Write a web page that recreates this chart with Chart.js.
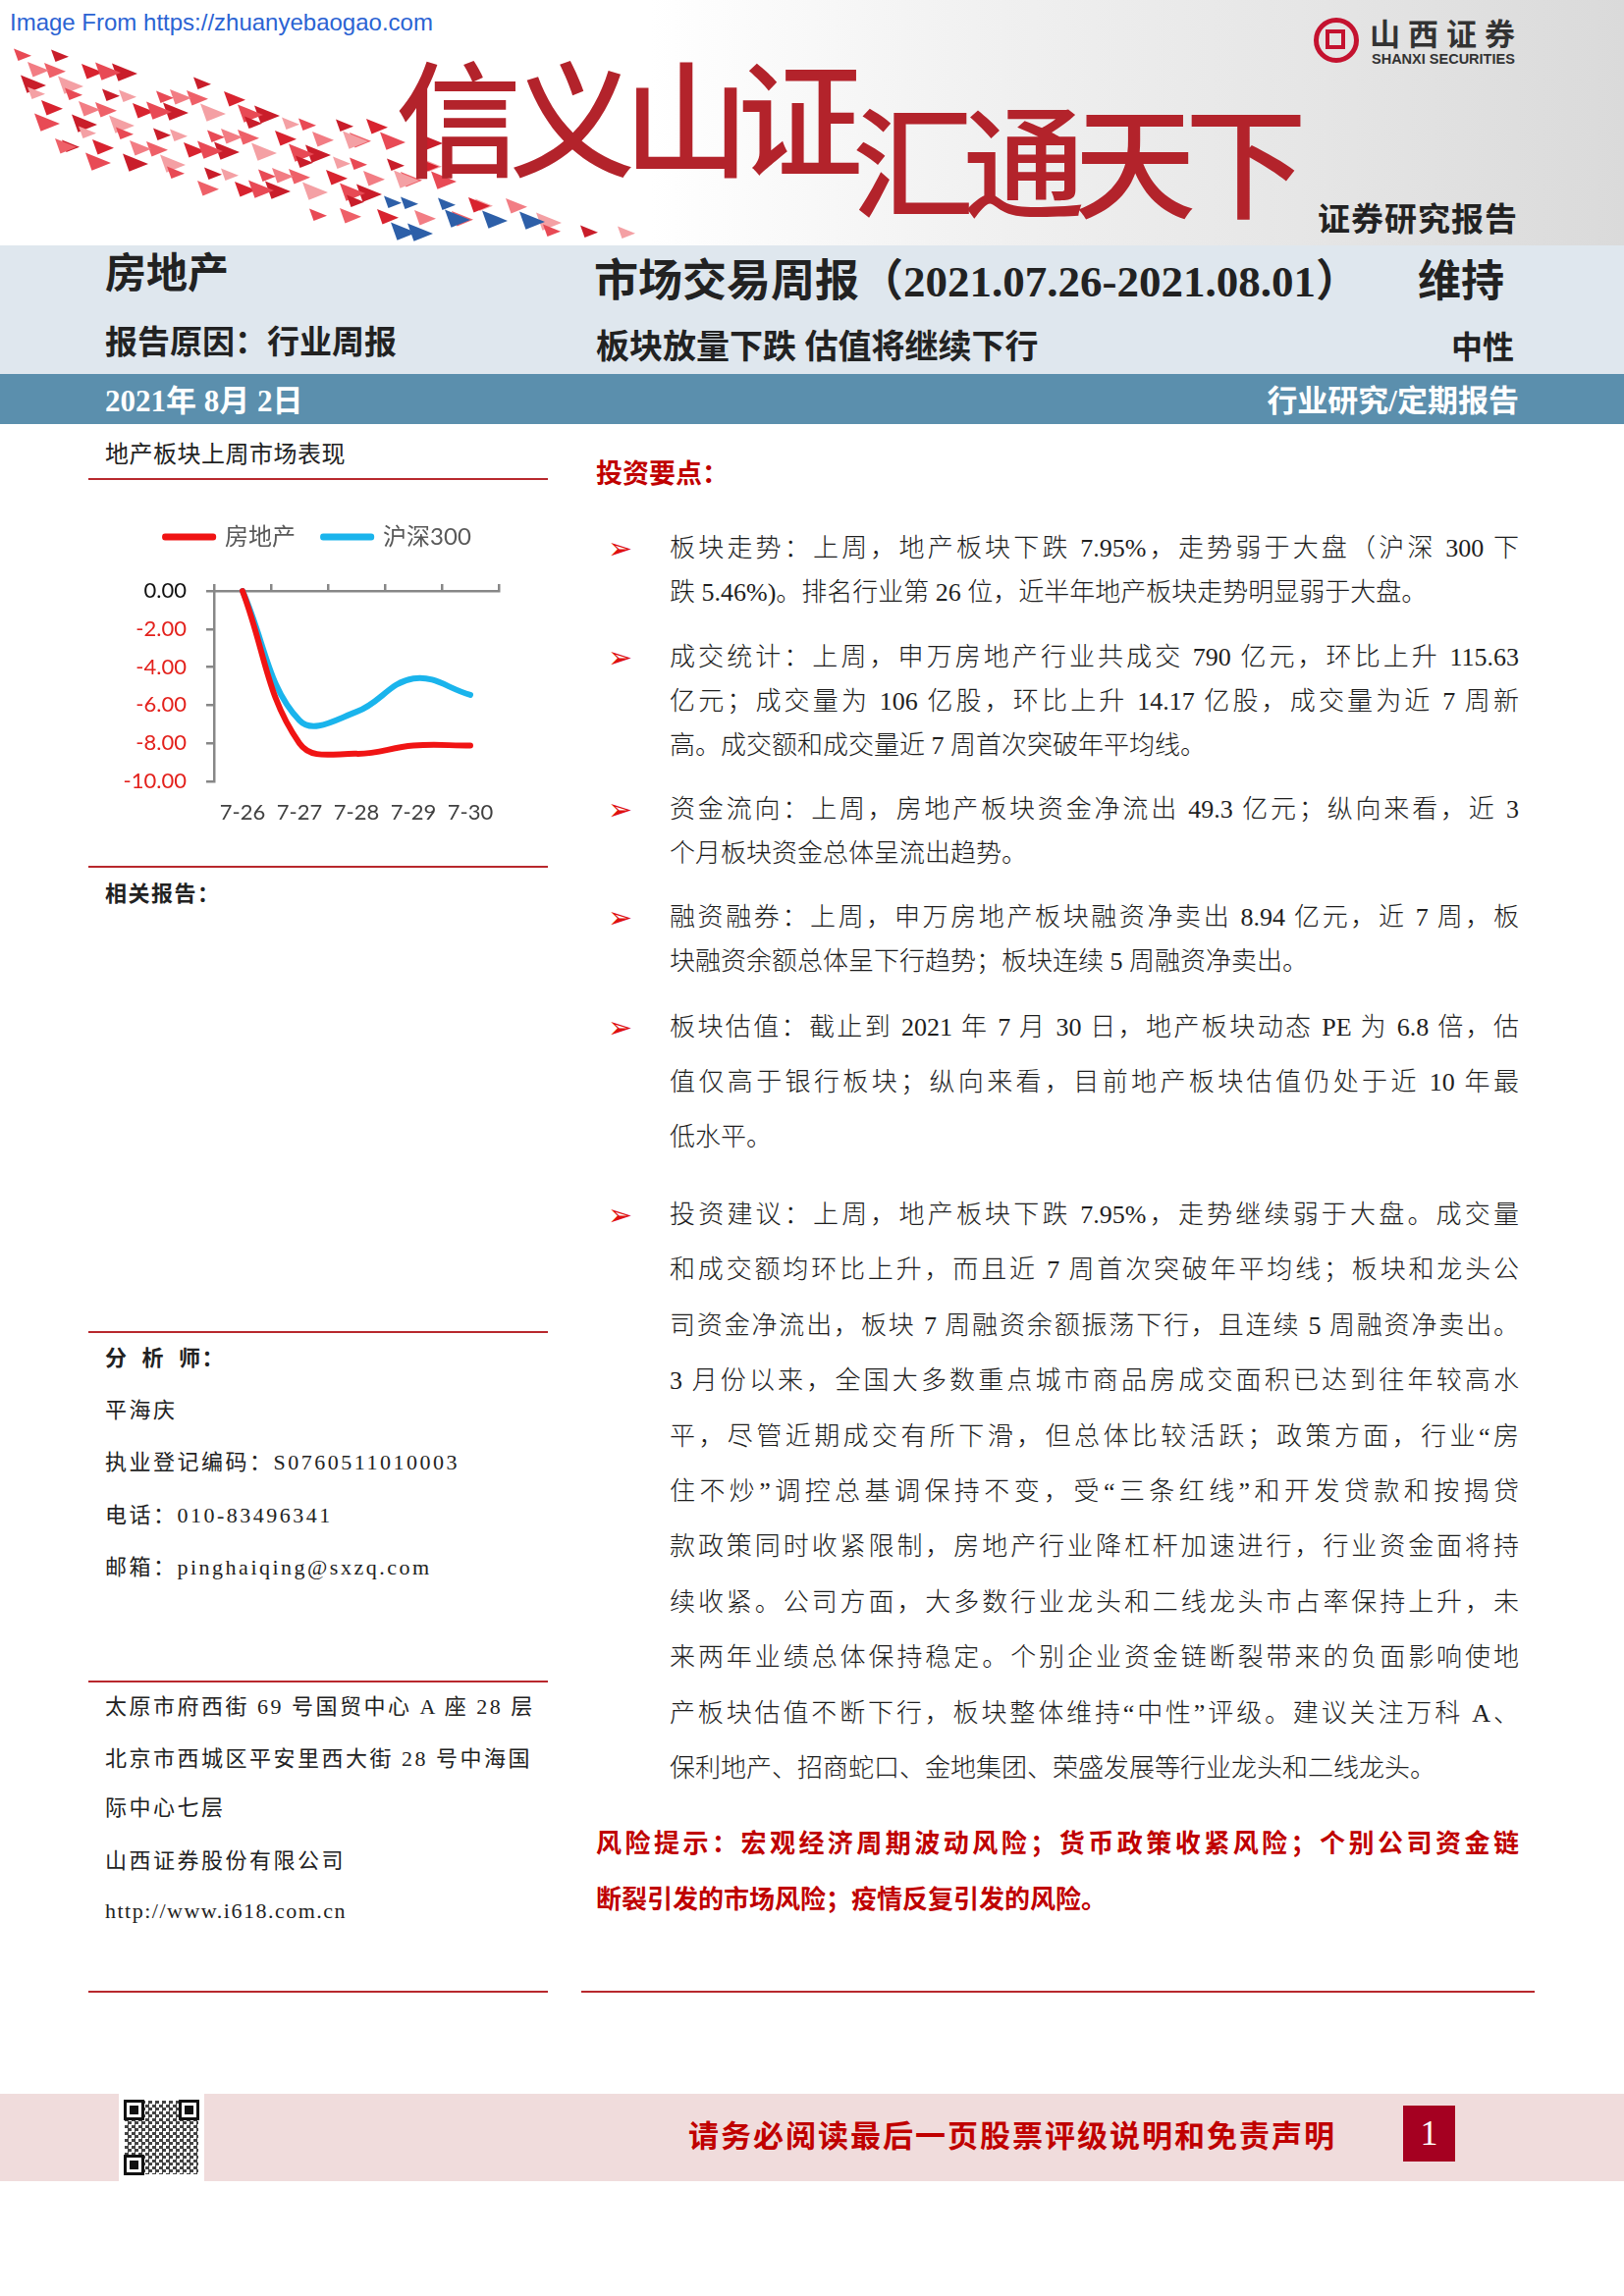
<!DOCTYPE html>
<html lang="zh-CN">
<head>
<meta charset="utf-8">
<title>房地产 市场交易周报</title>
<script src="https://cdn.jsdelivr.net/npm/chart.js@4.4.1/dist/chart.umd.min.js"></script>
<style>
html, body { margin: 0; padding: 0; background: #fff; }
body {
    width: 1654px; height: 2339px; position: relative; overflow: hidden;
    font-family: 'Liberation Serif', 'Noto Sans CJK SC', serif; color: #222;
}
.abs { position: absolute; white-space: nowrap; line-height: 1; }
.hei { font-family: 'Liberation Serif', 'Noto Sans CJK SC', sans-serif; font-weight: 700; }
#banner {
    position: absolute; left: 0; top: 0; width: 1654px; height: 250px;
    background: linear-gradient(90deg, #fff 0%, #fff 40%, #f1f1f1 60%, #e6e6e6 80%, #dadada 100%);
}
.big { position: absolute; font-family: 'Noto Sans CJK SC'; font-weight: 500; color: #b3232b;
       line-height: 1; white-space: nowrap; }
#band1 { position: absolute; left: 0; top: 250px; width: 1654px; height: 131px; background: #dfe7ee; }
#band2 { position: absolute; left: 0; top: 381px; width: 1654px; height: 51px; background: #5b8fad; }
.rule { position: absolute; height: 1.5px; background: #b8282d; }
.left { font-size: 22px; letter-spacing: 2.5px; left: 107px; }
.para { position: absolute; left: 682px; width: 865px; font-size: 26px; font-weight: 300; color: #1e1e1e; }
.para div { text-align: left; white-space: normal; }
.para div.j { text-align: justify; text-align-last: justify; }
.arrow { position: absolute; left: 619px; font-family: 'DejaVu Sans'; font-size: 30px; color: #e01010; line-height: 1; }
#chart-box { position: absolute; left: 90px; top: 500px; width: 468px; height: 350px; }
#footer { position: absolute; left: 0; top: 2133px; width: 1654px; height: 89px; background: #f0dcdc; }
#qr { position: absolute; left: 121px; top: 2133px; width: 87px; height: 89px; background: #fff; }
#qr .inner { position: absolute; left: 6px; top: 7px; width: 75px; height: 75px;
    background: repeating-conic-gradient(#222 0 25%, #fff 0 50%) 0 0 / 7px 7px; opacity: 0.85; }
#qr .fd { position: absolute; width: 15px; height: 15px; border: 3px solid #111; background: #fff; }
#qr .fd::after { content: ''; position: absolute; left: 3px; top: 3px; width: 9px; height: 9px; background: #111; }
</style>
</head>
<body>

<!-- 顶部横幅 -->
<div id="banner">
    <svg id="flock" width="700" height="250" style="position:absolute;left:0;top:0"></svg>
    <div class="abs" style="left:10px;top:11px;font-family:'Liberation Sans Narrow','Liberation Sans';font-size:24px;color:#2b63d3;">Image From https://zhuanyebaogao.com</div>
    <div class="big" style="left:403px;top:52px;font-size:128px;letter-spacing:-12px;">信义山证</div>
    <div class="big" style="left:868px;top:97px;font-size:124px;letter-spacing:-11px;">汇通天下</div>
    <div style="position:absolute;left:1338px;top:18px;width:36px;height:36px;border:5px solid #c4122f;border-radius:50%;"></div>
    <div style="position:absolute;left:1350px;top:30px;width:12px;height:12px;border:4px solid #c4122f;"></div>
    <div class="abs hei" style="left:1395px;top:17px;font-size:31px;letter-spacing:8px;color:#333;font-family:'Noto Sans CJK SC';">山西证券</div>
    <div class="abs" style="left:1397px;top:53px;font-size:14.5px;font-weight:700;color:#333;font-family:'Liberation Sans';">SHANXI SECURITIES</div>
    <div class="abs hei" style="left:1342px;top:205px;font-size:33px;letter-spacing:1px;font-family:'Noto Sans CJK SC';">证券研究报告</div>
</div>

<!-- 标题栏 -->
<div id="band1"></div>
<div id="band2"></div>
<div class="abs hei" style="left:107px;top:258px;font-size:42px;">房地产</div>
<div class="abs hei" style="left:605px;top:265px;font-size:45px;">市场交易周报（2021.07.26-2021.08.01）</div>
<div class="abs hei" style="left:1444px;top:266px;font-size:44px;">维持</div>
<div class="abs hei" style="left:107px;top:333px;font-size:33px;">报告原因：行业周报</div>
<div class="abs hei" style="left:607px;top:337px;font-size:34px;">板块放量下跌 估值将继续下行</div>
<div class="abs hei" style="left:1478px;top:338px;font-size:32px;">中性</div>
<div class="abs hei" style="left:107px;top:393px;font-size:31px;color:#fff;">2021年 8月 2日</div>
<div class="abs hei" style="right:107px;top:393px;font-size:31px;color:#fff;">行业研究/定期报告</div>

<!-- 左栏 -->
<div class="abs" style="left:107px;top:449px;font-size:24px;font-family:'Noto Sans CJK SC';letter-spacing:0.5px;">地产板块上周市场表现</div>
<div class="rule" style="left:90px;width:468px;top:487px;"></div>
<div id="chart-box"><canvas id="myChart"></canvas></div>
<div class="rule" style="left:90px;width:468px;top:882px;"></div>
<div class="abs hei left" style="top:900px;letter-spacing:1.5px;">相关报告：</div>
<div class="rule" style="left:90px;width:468px;top:1356px;"></div>
<div class="abs hei left" style="top:1373px;letter-spacing:1.5px;">分&nbsp;&nbsp;析&nbsp;&nbsp;师：</div>
<div class="abs left" style="top:1426px;">平海庆</div>
<div class="abs left" style="top:1479px;">执业登记编码：S0760511010003</div>
<div class="abs left" style="top:1533px;">电话：010-83496341</div>
<div class="abs left" style="top:1586px;">邮箱：pinghaiqing@sxzq.com</div>
<div class="rule" style="left:90px;width:468px;top:1712px;"></div>
<div class="abs left" style="top:1728px;">太原市府西街 69 号国贸中心 A 座 28 层</div>
<div class="abs left" style="top:1781px;">北京市西城区平安里西大街 28 号中海国</div>
<div class="abs left" style="top:1831px;">际中心七层</div>
<div class="abs left" style="top:1885px;">山西证券股份有限公司</div>
<div class="abs left" style="top:1936px;letter-spacing:1.5px;">http://www.i618.com.cn</div>
<div class="rule" style="left:90px;width:468px;top:2028px;"></div>

<!-- 右栏 -->
<div class="abs hei" style="left:607px;top:470px;font-size:27px;color:#c00000;">投资要点：</div>

<div class="arrow" style="top:544px;">➢</div>
<div class="para" style="top:536px;line-height:45px;">
    <div class="j">板块走势：上周，地产板块下跌 7.95%，走势弱于大盘（沪深 300 下</div>
    <div>跌 5.46%)。排名行业第 26 位，近半年地产板块走势明显弱于大盘。</div>
</div>

<div class="arrow" style="top:655px;">➢</div>
<div class="para" style="top:647px;line-height:45px;">
    <div class="j">成交统计：上周，申万房地产行业共成交 790 亿元，环比上升 115.63</div>
    <div class="j">亿元；成交量为 106 亿股，环比上升 14.17 亿股，成交量为近 7 周新</div>
    <div>高。成交额和成交量近 7 周首次突破年平均线。</div>
</div>

<div class="arrow" style="top:810px;">➢</div>
<div class="para" style="top:802px;line-height:45px;">
    <div class="j">资金流向：上周，房地产板块资金净流出 49.3 亿元；纵向来看，近 3</div>
    <div>个月板块资金总体呈流出趋势。</div>
</div>

<div class="arrow" style="top:920px;">➢</div>
<div class="para" style="top:912px;line-height:45px;">
    <div class="j">融资融券：上周，申万房地产板块融资净卖出 8.94 亿元，近 7 周，板</div>
    <div>块融资余额总体呈下行趋势；板块连续 5 周融资净卖出。</div>
</div>

<div class="arrow" style="top:1032px;">➢</div>
<div class="para" style="top:1019px;line-height:56px;">
    <div class="j">板块估值：截止到 2021 年 7 月 30 日，地产板块动态 PE 为 6.8 倍，估</div>
    <div class="j">值仅高于银行板块；纵向来看，目前地产板块估值仍处于近 10 年最</div>
    <div>低水平。</div>
</div>

<div class="arrow" style="top:1223px;">➢</div>
<div class="para" style="top:1210px;line-height:56.4px;">
    <div class="j">投资建议：上周，地产板块下跌 7.95%，走势继续弱于大盘。成交量</div>
    <div class="j">和成交额均环比上升，而且近 7 周首次突破年平均线；板块和龙头公</div>
    <div class="j">司资金净流出，板块 7 周融资余额振荡下行，且连续 5 周融资净卖出。</div>
    <div class="j">3 月份以来，全国大多数重点城市商品房成交面积已达到往年较高水</div>
    <div class="j">平，尽管近期成交有所下滑，但总体比较活跃；政策方面，行业“房</div>
    <div class="j">住不炒”调控总基调保持不变，受“三条红线”和开发贷款和按揭贷</div>
    <div class="j">款政策同时收紧限制，房地产行业降杠杆加速进行，行业资金面将持</div>
    <div class="j">续收紧。公司方面，大多数行业龙头和二线龙头市占率保持上升，未</div>
    <div class="j">来两年业绩总体保持稳定。个别企业资金链断裂带来的负面影响使地</div>
    <div class="j">产板块估值不断下行，板块整体维持“中性”评级。建议关注万科 A、</div>
    <div>保利地产、招商蛇口、金地集团、荣盛发展等行业龙头和二线龙头。</div>
</div>

<div class="para" style="left:607px;width:940px;top:1850px;line-height:57px;color:#c00000;font-weight:700;">
    <div class="j">风险提示：宏观经济周期波动风险；货币政策收紧风险；个别公司资金链</div>
    <div>断裂引发的市场风险；疫情反复引发的风险。</div>
</div>
<div class="rule" style="left:592px;width:971px;top:2028px;"></div>

<!-- 页脚 -->
<div id="footer"></div>
<div id="qr">
    <div class="inner"></div>
    <div class="fd" style="left:5px;top:6px;"></div>
    <div class="fd" style="left:61px;top:6px;"></div>
    <div class="fd" style="left:5px;top:62px;"></div>
</div>
<div class="abs" style="left:701px;top:2158px;font-size:31px;font-weight:700;letter-spacing:2px;color:#c00000;font-family:'Noto Sans CJK SC';">请务必阅读最后一页股票评级说明和免责声明</div>
<div style="position:absolute;left:1429px;top:2145px;width:53px;height:57px;background:#a50021;color:#fff;font-size:36px;text-align:center;line-height:57px;">1</div>

<script>
// 数据：地产板块与沪深300上周累计涨跌幅(%)
const dates = ['7-26', '7-27', '7-28', '7-29', '7-30'];
const fangdichan = [0, -8.0, -8.55, -8.12, -8.12];
const hs300 = [0, -6.8, -6.35, -4.6, -5.46];
const yMin = -10;
const yMax = 0;
const yStep = 2;

// 横幅左侧的箭头装饰
(function drawFlock() {
    const svg = document.getElementById('flock');
    const reds = ['#d8232f', '#e84a55', '#f27d84', '#c91d2a', '#ee6068', '#f4a0a4'];
    let html = '';
    for (let r = 0; r < 11; r++) {
        for (let c = 0; c < 17; c++) {
            const x = c * 37 + r * 5 + ((r * 3 + c * 5) % 7) * 3;
            const y = 36 + c * 8.5 + r * 10.5 + ((r + c * 2) % 5) * 3;
            if (y > 240 || x > 640) continue;
            if (c > 11 && r < 5) continue;
            if ((r * 7 + c * 3) % 4 === 0) continue;
            const s = 7 + ((r + c) % 4) * 2;
            const blue = c >= 9 && r >= 6 && (r + c) % 3 !== 0;
            const col = blue ? '#2d5fa8' : reds[(r + c * 3) % reds.length];
            html += `<polygon points="${x},${y} ${x + s * 2},${y + s * 0.8} ${x + s * 0.5},${y + s * 1.4}" fill="${col}"/>`;
        }
    }
    svg.innerHTML = html;
})();

Chart.defaults.font.family = "Lato, 'Noto Sans CJK SC', sans-serif";

const ctx = document.getElementById('myChart');
const axisGray = '#878787';

new Chart(ctx.getContext('2d'), {
    type: 'line',
    data: {
        labels: dates,
        datasets: [{
            label: '房地产',
            data: fangdichan,
            borderColor: '#f01414',
            backgroundColor: '#f01414',
            borderWidth: 6,
            borderCapStyle: 'round',
            borderJoinStyle: 'round',
            pointRadius: 0,
            tension: 0.4,
            clip: false
        }, {
            label: '沪深300',
            data: hs300,
            borderColor: '#1ab4ec',
            backgroundColor: '#1ab4ec',
            borderWidth: 6,
            borderCapStyle: 'round',
            borderJoinStyle: 'round',
            pointRadius: 0,
            tension: 0.4,
            clip: false
        }]
    },
    options: {
        responsive: true,
        maintainAspectRatio: false,
        animation: false,
        layout: { padding: { top: 7, right: 0, bottom: 0, left: 0 } },
        plugins: {
            legend: {
                display: true,
                position: 'top',
                labels: {
                    boxWidth: 49,
                    boxHeight: 1,
                    padding: 28,
                    color: '#595959',
                    font: { size: 24 }
                }
            },
            tooltip: { enabled: false }
        },
        scales: {
            x: {
                type: 'category',
                position: 'bottom',
                offset: true,
                grid: { display: false },
                border: { display: false },
                ticks: { color: '#404040', padding: 11, maxRotation: 0, font: { size: 22 } },
                afterFit: s => { s.height = 54; }
            },
            xTop: {
                type: 'category',
                labels: dates,
                position: 'top',
                offset: true,
                grid: { offset: true, drawOnChartArea: false, drawTicks: true, tickLength: 7, color: axisGray, lineWidth: 2.5 },
                border: { color: axisGray, width: 2.5 },
                ticks: { display: false },
                afterFit: s => { s.height = 33; }
            },
            y: {
                min: yMin,
                max: yMax,
                ticks: {
                    stepSize: yStep,
                    padding: 20,
                    font: { size: 22 },
                    callback: v => v.toFixed(2),
                    color: c => (c.tick && c.tick.value === 0 ? '#111111' : '#e3211c')
                },
                grid: { drawOnChartArea: false, tickLength: 8, color: axisGray, lineWidth: 2.5 },
                border: { color: axisGray, width: 2.5 },
                afterFit: s => { s.width = 128; }
            },
            // 右侧留白，让图例居中于整个画布
            yPad: {
                type: 'linear',
                position: 'right',
                grid: { display: false },
                border: { display: false },
                ticks: { display: false },
                afterFit: s => { s.width = 50; }
            }
        }
    }
});
</script>
</body>
</html>
